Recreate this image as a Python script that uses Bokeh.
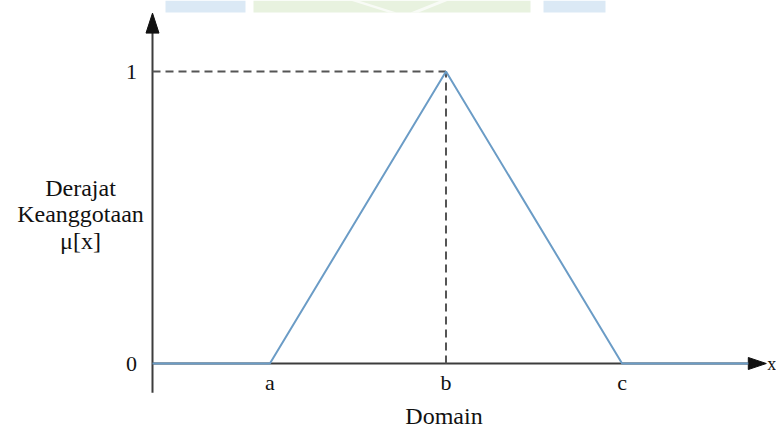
from bokeh.plotting import figure
from bokeh.models import Range1d
from bokeh.core.properties import value
from bokeh.embed import file_html
from bokeh.resources import INLINE

# Triangular membership function: domain points and membership degrees
domain_x = [0, 2, 5, 8, 10.15]
membership = [0, 0, 1, 0, 0]

x_ticks = [2, 5, 8]
x_tick_labels = ["a", "b", "c"]
y_ticks = [0, 1]
y_tick_labels = ["0", "1"]

peak_x = 5
peak_y = 1
y_axis_top = 1.2
y_axis_bottom = -0.1

y_title = ["Derajat", "Keanggotaan", "\u03bc[x]"]
x_title = "Domain"
x_symbol = "x"

W, H = 776, 434
KX, KY = 58.7, 292.0          # pixels per data unit
ORIGIN = (152, 363)           # canvas position of the origin

x0 = -ORIGIN[0] / KX
y1 = ORIGIN[1] / KY
p = figure(width=W, height=H,
           x_range=Range1d(x0, x0 + W / KX),
           y_range=Range1d(y1 - H / KY, y1),
           output_backend="svg", toolbar_location=None,
           x_axis_location=None, y_axis_location=None,
           min_border=0, outline_line_color=None,
           background_fill_color="white", border_fill_color="white")
p.grid.grid_line_color = None


def px_x(n):
    return n / KX


def px_y(n):
    return n / KY


def cx(px):
    return x0 + px / KX


def cy(py):
    return y1 - py / KY


FONT = value("Liberation Serif")
TXT = "#111111"
AXIS = "#3c3c3c"
BLUE = "#6b9cc6"
DASH = "#555555"

# faint watermark band along the top edge
top = cy(0)
bot = cy(12)
p.quad(left=[cx(165), cx(543)], right=[cx(245), cx(605)], top=top, bottom=bot,
       fill_color="#dbe9f5", line_color=None)
p.quad(left=[cx(253)], right=[cx(530)], top=top, bottom=bot,
       fill_color="#e8f2df", line_color=None)
p.patch([cx(350), cx(358), cx(396), cx(388)], [top, top, bot, bot],
        fill_color="white", fill_alpha=0.7, line_color=None)
p.patch([cx(440), cx(448), cx(418), cx(410)], [top, top, bot, bot],
        fill_color="white", fill_alpha=0.7, line_color=None)

# axes with arrow heads
head_len_y, head_half_y = px_y(20), px_x(6.5)
p.line([0, 0], [y_axis_bottom, y_axis_top - head_len_y], line_color=AXIS, line_width=2)
p.patch([0, -head_half_y, head_half_y],
        [y_axis_top, y_axis_top - head_len_y, y_axis_top - head_len_y],
        fill_color="#111111", line_color="#111111")

x_tip = domain_x[-1] + px_x(18)
p.line([0, domain_x[-1]], [0, 0], line_color=AXIS, line_width=2.2)
p.patch([x_tip, domain_x[-1], domain_x[-1]], [0, px_y(6), -px_y(6)],
        fill_color="#111111", line_color="#111111")

# guide lines to the peak
p.line([0, peak_x], [peak_y, peak_y], line_color=DASH, line_width=2, line_dash="8 5")
p.line([peak_x, peak_x], [0, peak_y], line_color=DASH, line_width=2, line_dash="8 5")

# membership function
p.line(domain_x, membership, line_color=BLUE, line_width=2)

# tick labels
p.text(x=[-px_x(21)] * len(y_ticks), y=y_ticks, text=y_tick_labels,
       text_font=FONT, text_font_size="22px", text_color=TXT,
       text_align="center", text_baseline="middle")
p.text(x=x_ticks, y=[-px_y(19)] * len(x_ticks), text=x_tick_labels,
       text_font=FONT, text_font_size="22px", text_color=TXT,
       text_align="center", text_baseline="middle")
p.text(x=[x_tip + px_x(1)], y=[0], text=[x_symbol],
       text_font=FONT, text_font_size="18px", text_color=TXT,
       text_align="left", text_baseline="middle")

# axis titles
p.text(x=[-px_x(72)] * 3, y=[cy(187), cy(213), cy(240)], text=y_title,
       text_font=FONT, text_font_size="24px", text_color=TXT,
       text_align="center", text_baseline="middle")
p.text(x=[peak_x - px_x(2)], y=[cy(415)], text=[x_title],
       text_font=FONT, text_font_size="24px", text_color=TXT,
       text_align="center", text_baseline="middle")

open("out.html", "w").write(file_html(p, INLINE))
